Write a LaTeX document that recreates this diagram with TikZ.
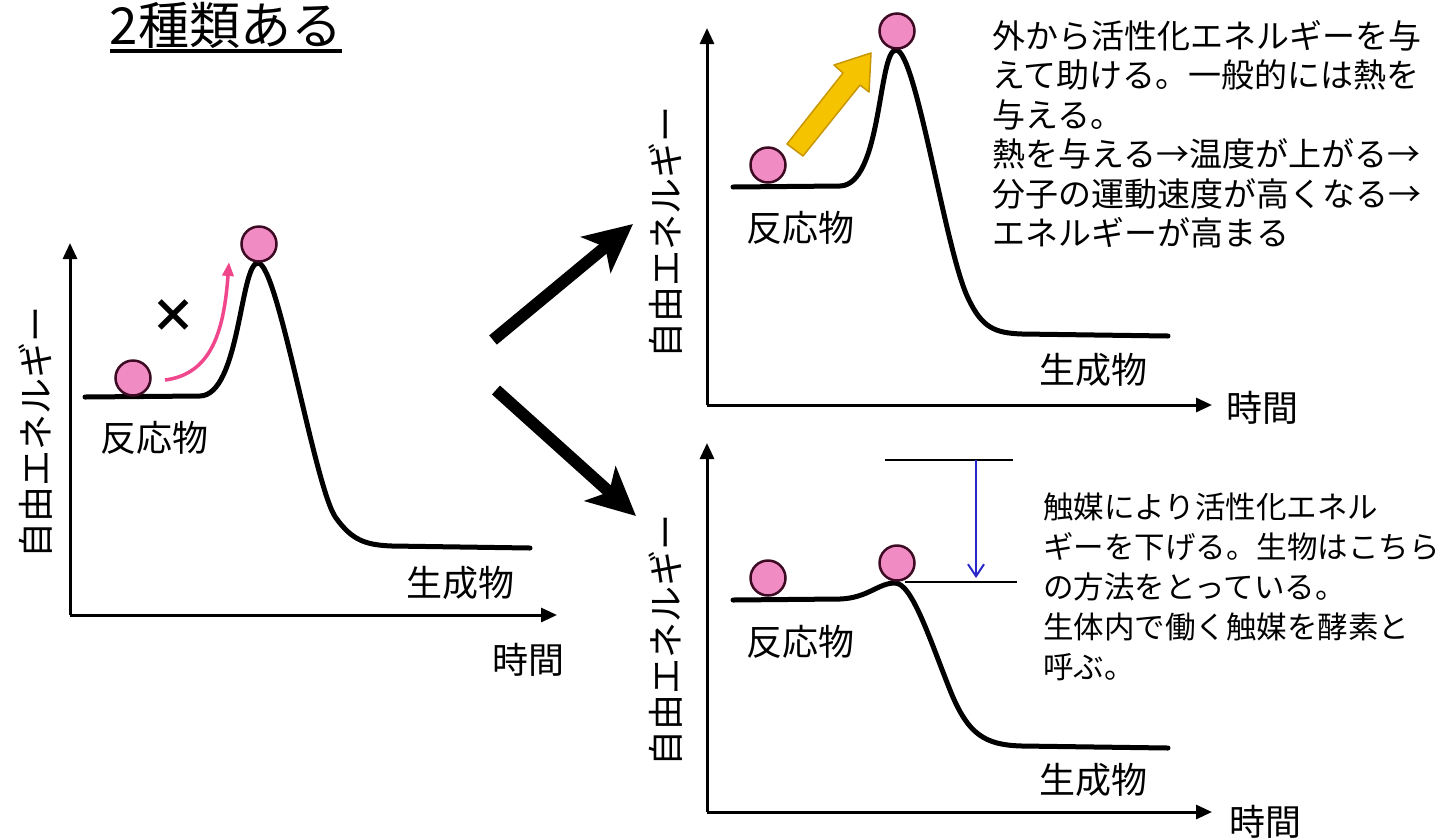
\documentclass[tikz,border=0pt]{standalone}
\usepackage{fontspec}
\setmainfont{Noto Sans CJK JP}
\usetikzlibrary{arrows.meta}
\definecolor{ballfill}{RGB}{240,140,195}
\definecolor{ballline}{RGB}{60,10,35}
\definecolor{pinkarrow}{RGB}{240,70,140}
\definecolor{yellowfill}{RGB}{245,195,0}
\definecolor{yellowline}{RGB}{200,150,0}
\definecolor{bluearrow}{RGB}{40,40,200}
\tikzset{
  axis/.style={line width=3, -{Triangle[length=16pt,width=14pt]}},
  curve/.style={line width=5, line cap=round},
  ball/.style={circle, draw=ballline, fill=ballfill, line width=2.5, minimum size=35, inner sep=0},
  lbl/.style={inner sep=0, font=\fontsize{36}{40}\selectfont},
  ylbl/.style={inner sep=0, rotate=90, font=\fontsize{36}{40}\selectfont},
  body/.style={inner sep=0, anchor=north west, align=left, font=\fontsize{33}{39.5}\selectfont},
  bodyb/.style={inner sep=0, anchor=north west, align=left, font=\fontsize{30.5}{40}\selectfont},
  bigarrow/.style={line width=12, -{Stealth[length=48pt,width=46pt,inset=12pt]}},
  level/.style={line width=2},
}
\begin{document}
\begin{tikzpicture}[x=1pt,y=-1pt]
\useasboundingbox (0,0) rectangle (1445,839);
\fill[white] (0,0) rectangle (1445,839);

% title
\node[inner sep=0, font=\fontsize{51}{56}\selectfont] (title) at (226,25) {2種類ある};
\draw[line width=3.5] ([yshift=-7pt]title.base west) -- ([yshift=-7pt]title.base east);

% ---------- left panel ----------
\coordinate (O1) at (70,615);
\coordinate (Y1) at (70,243);
\coordinate (X1) at (557,615);
\draw[axis] (O1) -- (Y1);
\draw[axis] (O1) -- (X1);
\node[ylbl] (yl1) at (36,432) {自由エネルギー};
\node[lbl] (t1) at (528,660) {時間};
\node[lbl] (r1) at (154,438) {反応物};
\node[lbl] (p1) at (460,583) {生成物};
\draw[curve] (85,397) -- (200,396) .. controls (240,395) and (240,263) .. (258,263)
  .. controls (278,263) and (315,490) .. (336,518) .. controls (352,540) and (365,545) .. (392,546) -- (530,548);
\node[ball] (b1a) at (133,378) {};
\node[ball] (b1b) at (259,244) {};
\coordinate (pa1) at (165,380);
\coordinate (pa2) at (229,262);
\draw[pinkarrow, line width=3.5, -{Triangle[length=14pt,width=11pt]}] (pa1) .. controls (212,374) and (224,330) .. (pa2);
\node[inner sep=0, font=\fontsize{46}{50}\selectfont\bfseries] (cross) at (173,316) {×};

% big arrows
\coordinate (ba1s) at (493,340);
\coordinate (ba1e) at (633,224);
\coordinate (ba2s) at (496,390);
\coordinate (ba2e) at (636,516);
\draw[bigarrow] (ba1s) -- (ba1e);
\draw[bigarrow] (ba2s) -- (ba2e);

% ---------- top right panel ----------
\coordinate (O2) at (707,405);
\coordinate (Y2) at (707,28);
\coordinate (X2) at (1212,405);
\draw[axis] (O2) -- (Y2);
\draw[axis] (O2) -- (X2);
\node[ylbl] (yl2) at (666,232) {自由エネルギー};
\node[lbl] (t2) at (1262,408) {時間};
\node[lbl] (r2) at (800,228) {反応物};
\node[lbl] (p2) at (1093,370) {生成物};
\draw[curve] (733,187) -- (840,186) .. controls (882,185) and (878,50) .. (896,50)
  .. controls (916,50) and (945,250) .. (968,298) .. controls (982,328) and (995,333) .. (1022,334) -- (1168,336);
\node[ball] (b2a) at (768,165) {};
\node[ball] (b2b) at (897,31) {};
\draw[yellowline, fill=yellowfill, line width=1.5, line join=round]
  (787,144) -- (843,73) -- (834,65) -- (871,53) -- (869,92) -- (860,85) -- (803,156) -- cycle;
\node[body] (txt1) at (992,20) {外から活性化エネルギーを与\\えて助ける。一般的には熱を\\与える。\\熱を与える→温度が上がる→\\分子の運動速度が高くなる→\\エネルギーが高まる};

% ---------- bottom right panel ----------
\coordinate (O3) at (707,812);
\coordinate (Y3) at (707,443);
\coordinate (X3) at (1212,812);
\draw[axis] (O3) -- (Y3);
\draw[axis] (O3) -- (X3);
\node[ylbl] (yl3) at (666,640) {自由エネルギー};
\node[lbl] (t3) at (1265,822) {時間};
\node[lbl] (r3) at (800,642) {反応物};
\node[lbl] (p3) at (1093,780) {生成物};
\draw[curve] (733,600) -- (840,599) .. controls (868,598) and (878,583) .. (895,583)
  .. controls (912,583) and (930,640) .. (950,690) .. controls (968,735) and (985,745) .. (1022,746) -- (1168,748);
\node[ball] (b3a) at (768,578) {};
\node[ball] (b3b) at (897,563) {};
\coordinate (h1a) at (885,460);
\coordinate (h1b) at (1013,460);
\coordinate (h2a) at (905,582);
\coordinate (h2b) at (1017,582);
\draw[level] (h1a) -- (h1b);
\draw[level] (h2a) -- (h2b);
\coordinate (va) at (976,460);
\coordinate (vb) at (976,578);
\draw[bluearrow, line width=2, -{Straight Barb[length=12pt,width=16pt]}] (va) -- (vb);
\node[bodyb] (txt2) at (1043,493) {触媒により活性化エネル\\ギーを下げる。生物はこちら\\の方法をとっている。\\生体内で働く触媒を酵素と\\呼ぶ。};
\end{tikzpicture}
\end{document}
